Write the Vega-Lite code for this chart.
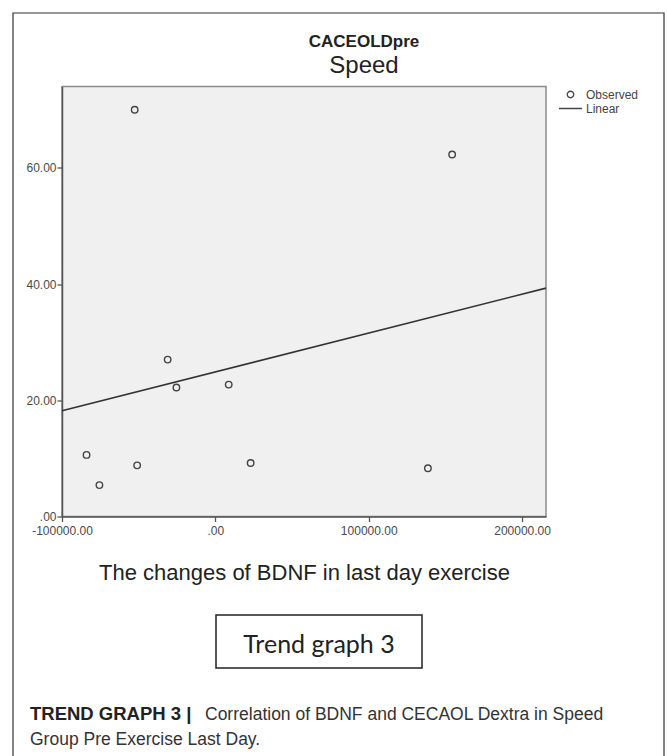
{
  "$schema": "https://vega.github.io/schema/vega-lite/v6.json",
  "width": 484,
  "height": 430,
  "autosize": {"type": "none"},
  "padding": {"left": 62, "top": 86.5, "right": 121, "bottom": 239.5},
  "background": "white",
  "title": {
    "text": "CACEOLDpre",
    "subtitle": "Speed",
    "anchor": "middle",
    "frame": "group",
    "dx": 60,
    "offset": -67,
    "font": "Liberation Sans",
    "fontSize": 17,
    "fontWeight": "bold",
    "color": "#222",
    "subtitleFont": "Liberation Sans",
    "subtitleFontSize": 24,
    "subtitleColor": "#222",
    "subtitlePadding": 3
  },
  "config": {
    "view": {"fill": "#f0f0f0", "stroke": "#8a8a8a", "strokeWidth": 1.5},
    "axis": {
      "grid": false,
      "domainColor": "#555",
      "domainWidth": 1.5,
      "tickColor": "#555",
      "tickWidth": 1.3,
      "tickSize": 5,
      "labelFont": "Liberation Sans",
      "labelFontSize": 12,
      "labelColor": "#4a4a4a",
      "labelFlush": false,
      "labelOverlap": false
    }
  },
  "datasets": {
    "observed": [
      {"bdnf_change": -52600, "caceoldpre": 70.0, "series": "Observed"},
      {"bdnf_change": 154400, "caceoldpre": 62.3, "series": "Observed"},
      {"bdnf_change": -31100, "caceoldpre": 27.0, "series": "Observed"},
      {"bdnf_change": -25400, "caceoldpre": 22.2, "series": "Observed"},
      {"bdnf_change": 8700, "caceoldpre": 22.7, "series": "Observed"},
      {"bdnf_change": -84000, "caceoldpre": 10.6, "series": "Observed"},
      {"bdnf_change": -75600, "caceoldpre": 5.4, "series": "Observed"},
      {"bdnf_change": -51000, "caceoldpre": 8.8, "series": "Observed"},
      {"bdnf_change": 23000, "caceoldpre": 9.2, "series": "Observed"},
      {"bdnf_change": 138600, "caceoldpre": 8.3, "series": "Observed"}
    ],
    "linear": [
      {"bdnf_change": -100000, "caceoldpre": 18.2},
      {"bdnf_change": 215600, "caceoldpre": 39.3}
    ]
  },
  "layer": [
    {
      "data": {"values": [{}]},
      "mark": {"type": "rect", "fillOpacity": 0, "stroke": "#333", "strokeWidth": 1.2},
      "encoding": {
        "x": {"datum": -131950, "type": "quantitative"},
        "x2": {"datum": 292546},
        "y": {"datum": 86.65, "type": "quantitative"},
        "y2": {"datum": -43.6}
      }
    },
    {
      "data": {"name": "observed"},
      "mark": {"type": "point", "filled": false, "stroke": "#444", "strokeWidth": 1.4, "opacity": 1},
      "encoding": {
        "x": {
          "field": "bdnf_change",
          "type": "quantitative",
          "scale": {"domain": [-100000, 215600], "nice": false, "zero": false},
          "axis": {
            "values": [-100000, 0, 100000, 200000],
            "labelExpr": "datum.value == 0 ? '.00' : (datum.value < 0 ? '-' : '') + format(abs(datum.value), '.2f')",
            "labelPadding": 4,
            "title": "The changes of BDNF in last day exercise",
            "titleFont": "Liberation Sans",
            "titleFontSize": 22,
            "titleFontWeight": "normal",
            "titleColor": "#222",
            "titlePadding": 26
          }
        },
        "y": {
          "field": "caceoldpre",
          "type": "quantitative",
          "scale": {"domain": [0, 74], "nice": false, "zero": false},
          "axis": {
            "values": [0, 20, 40, 60],
            "labelExpr": "datum.value == 0 ? '.00' : format(datum.value, '.2f')",
            "labelPadding": 1,
            "title": null
          }
        },
        "shape": {
          "field": "series",
          "type": "nominal",
          "scale": {"domain": ["Observed", "Linear"], "range": ["circle", "stroke"]},
          "legend": {
            "orient": "none",
            "legendX": 496,
            "legendY": 2,
            "title": null,
            "padding": 0,
            "labelFont": "Liberation Sans",
            "labelFontSize": 12,
            "labelColor": "#444",
            "labelOffset": 3,
            "rowPadding": 2,
            "clipHeight": 12,
            "symbolStrokeColor": "#444",
            "symbolStrokeWidth": 1.3,
            "symbolFillColor": "transparent"
          }
        },
        "size": {
          "field": "series",
          "type": "nominal",
          "scale": {"domain": ["Observed", "Linear"], "range": [42, 529]},
          "legend": {
            "orient": "none",
            "legendX": 496,
            "legendY": 2,
            "title": null,
            "padding": 0,
            "labelFont": "Liberation Sans",
            "labelFontSize": 12,
            "labelColor": "#444",
            "labelOffset": 3,
            "rowPadding": 2,
            "clipHeight": 12,
            "symbolStrokeColor": "#444",
            "symbolStrokeWidth": 1.3,
            "symbolFillColor": "transparent"
          }
        }
      }
    },
    {
      "data": {"name": "linear"},
      "mark": {"type": "line", "color": "#333", "strokeWidth": 1.6},
      "encoding": {
        "x": {"field": "bdnf_change", "type": "quantitative"},
        "y": {"field": "caceoldpre", "type": "quantitative"}
      }
    },
    {
      "data": {"values": [{}]},
      "mark": {"type": "rect", "fill": "white", "stroke": "#222", "strokeWidth": 1.5},
      "encoding": {
        "x": {"datum": 419, "type": "quantitative"},
        "x2": {"datum": 134745},
        "y": {"datum": -16.95, "type": "quantitative"},
        "y2": {"datum": -26.07}
      }
    },
    {
      "data": {"values": [{}]},
      "mark": {"type": "text", "text": "Trend graph 3", "font": "Lato", "fontSize": 25, "align": "center", "baseline": "alphabetic", "color": "#222"},
      "encoding": {
        "x": {"datum": 67582, "type": "quantitative"},
        "y": {"datum": -23.49, "type": "quantitative"}
      }
    },
    {
      "data": {"values": [{}]},
      "mark": {"type": "text", "text": "TREND GRAPH 3  |", "font": "Liberation Sans", "fontSize": 18.5, "fontWeight": "bold", "align": "left", "baseline": "alphabetic", "color": "#222"},
      "encoding": {
        "x": {"datum": -120866, "type": "quantitative"},
        "y": {"datum": -35.02, "type": "quantitative"}
      }
    },
    {
      "data": {"values": [{}]},
      "mark": {"type": "text", "text": "Correlation of BDNF and CECAOL Dextra in Speed", "font": "Liberation Sans", "fontSize": 17.5, "align": "left", "baseline": "alphabetic", "color": "#333"},
      "encoding": {
        "x": {"datum": -6754, "type": "quantitative"},
        "y": {"datum": -35.02, "type": "quantitative"}
      }
    },
    {
      "data": {"values": [{}]},
      "mark": {"type": "text", "text": "Group Pre Exercise Last Day.", "font": "Liberation Sans", "fontSize": 17.5, "align": "left", "baseline": "alphabetic", "color": "#333"},
      "encoding": {
        "x": {"datum": -120866, "type": "quantitative"},
        "y": {"datum": -39.32, "type": "quantitative"}
      }
    }
  ]
}
